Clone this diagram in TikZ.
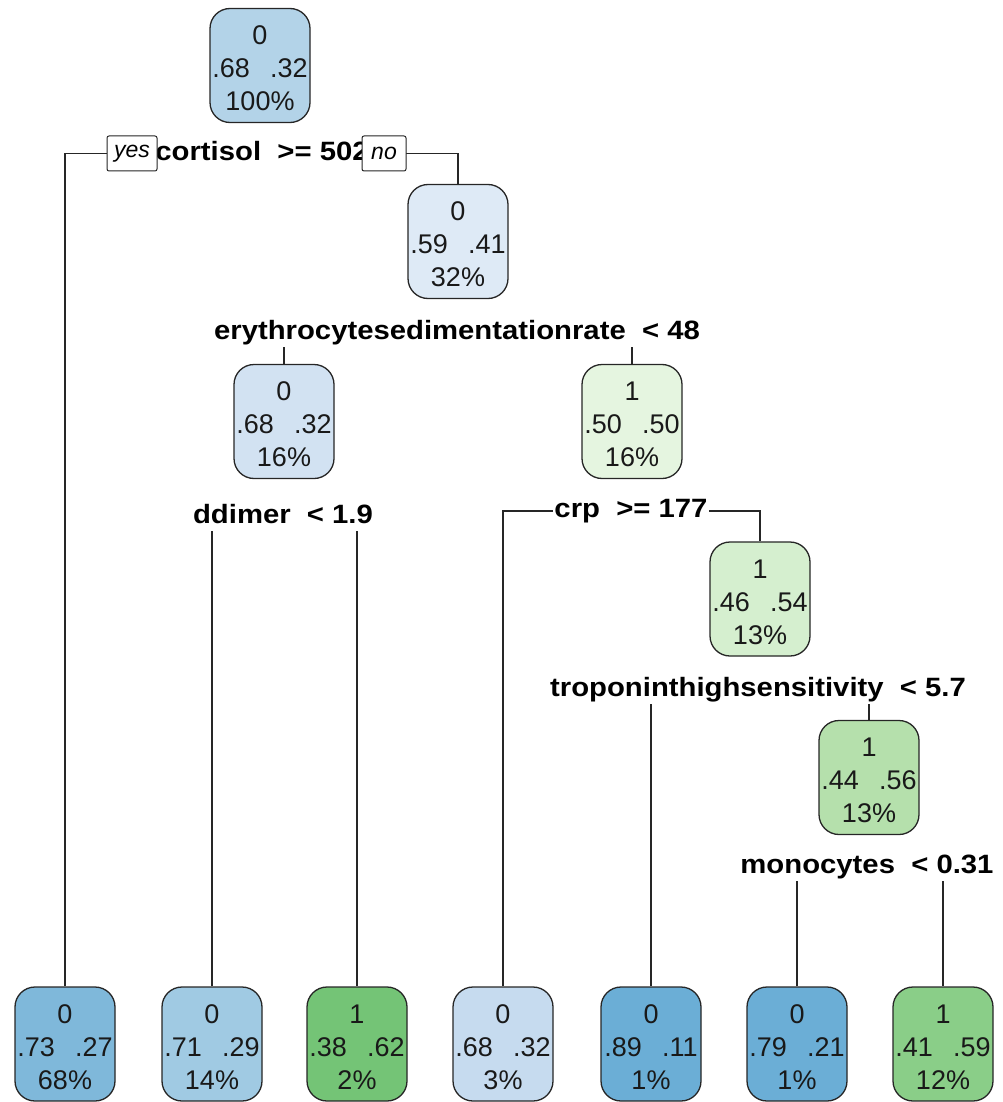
\documentclass[tikz,border=0pt]{standalone}
\usepackage{fontspec}
\setmainfont{Liberation Sans}
\newfontfamily\lblfont[FakeStretch=1.105]{Liberation Sans}
\usetikzlibrary{backgrounds}
\definecolor{cRoot}{RGB}{179,211,232}
\definecolor{cNb}{RGB}{222,234,246}
\definecolor{cNc}{RGB}{210,226,242}
\definecolor{cNd}{RGB}{229,245,224}
\definecolor{cNe}{RGB}{213,239,207}
\definecolor{cNf}{RGB}{181,224,172}
\definecolor{cLa}{RGB}{127,184,218}
\definecolor{cLb}{RGB}{160,202,227}
\definecolor{cLc}{RGB}{116,196,118}
\definecolor{cLd}{RGB}{198,219,239}
\definecolor{cLe}{RGB}{107,174,214}
\definecolor{cLf}{RGB}{107,174,214}
\definecolor{cLg}{RGB}{138,206,136}
\newcommand{\ntxt}[4]{\rule{0pt}{25pt}#1\\#2\hspace{0.75em}#3\\#4}
\tikzset{
  treebox/.style={draw=black!85, line width=1.3pt, rounded corners=20pt,
    minimum width=100pt, minimum height=114pt, inner sep=0pt, align=center,
    font=\fontsize{27}{33}\selectfont, text=black!90},
  splitlbl/.style={fill=white, inner xsep=1pt, inner ysep=2pt, text height=19pt,
    text depth=5.5pt, font=\lblfont\bfseries\fontsize{26.5}{30}\selectfont},
  yn/.style={draw=black!85, fill=white, line width=1pt, rounded corners=2pt,
    minimum height=35pt, inner sep=0pt, font=\itshape\fontsize{23}{26}\selectfont},
  branch/.style={line width=1.5pt, draw=black!85}
}
\begin{document}
\begin{tikzpicture}[x=1pt,y=-1pt]
\useasboundingbox (0,0) rectangle (1003,1102);
% internal nodes
\node[treebox, fill=cRoot] (n1) at (260,65.5) {\ntxt{0}{.68}{.32}{100\%}};
\node[treebox, fill=cNb] (n2) at (458,241.5) {\ntxt{0}{.59}{.41}{32\%}};
\node[treebox, fill=cNc] (n3) at (284,421.5) {\ntxt{0}{.68}{.32}{16\%}};
\node[treebox, fill=cNd] (n4) at (632,421.5) {\ntxt{1}{.50}{.50}{16\%}};
\node[treebox, fill=cNe] (n5) at (760,599) {\ntxt{1}{.46}{.54}{13\%}};
\node[treebox, fill=cNf] (n6) at (869,777.5) {\ntxt{1}{.44}{.56}{13\%}};
% leaves
\node[treebox, fill=cLa] (l1) at (65,1044) {\ntxt{0}{.73}{.27}{68\%}};
\node[treebox, fill=cLb] (l2) at (212,1044) {\ntxt{0}{.71}{.29}{14\%}};
\node[treebox, fill=cLc] (l3) at (357,1044) {\ntxt{1}{.38}{.62}{2\%}};
\node[treebox, fill=cLd] (l4) at (503,1044) {\ntxt{0}{.68}{.32}{3\%}};
\node[treebox, fill=cLe] (l5) at (651,1044) {\ntxt{0}{.89}{.11}{1\%}};
\node[treebox, fill=cLf] (l6) at (797,1044) {\ntxt{0}{.79}{.21}{1\%}};
\node[treebox, fill=cLg] (l7) at (943,1044) {\ntxt{1}{.41}{.59}{12\%}};
% split labels
\node[splitlbl] (s1) at (262,154) {cortisol\ \ >= 502};
\node[splitlbl] (s2) at (457,333) {erythrocytesedimentationrate\ \ < 48};
\node[splitlbl] (s3) at (283,517) {ddimer\ \ < 1.9};
\node[splitlbl] (s4) at (631,511) {crp\ \ >= 177};
\node[splitlbl] (s5) at (758,690) {troponinthighsensitivity\ \ < 5.7};
\node[splitlbl] (s6) at (867,867) {monocytes\ \ < 0.31};
% yes / no
\node[yn, minimum width=50pt] (yes) at (132,153.5) {yes};
\node[yn, minimum width=44pt] (no) at (384,153.5) {no};
\begin{pgfonlayer}{background}
\draw[branch] (l1.north) |- (yes.center) -| (n2.north);
\draw[branch] (n3.north) |- (s2.center) -| (n4.north);
\draw[branch] (l2.north) |- (s3.center) -| (l3.north);
\draw[branch] (l4.north) |- (s4.center) -| (n5.north);
\draw[branch] (l5.north) |- (s5.center) -| (n6.north);
\draw[branch] (l6.north) |- (s6.center) -| (l7.north);
\end{pgfonlayer}
\end{tikzpicture}
\end{document}
